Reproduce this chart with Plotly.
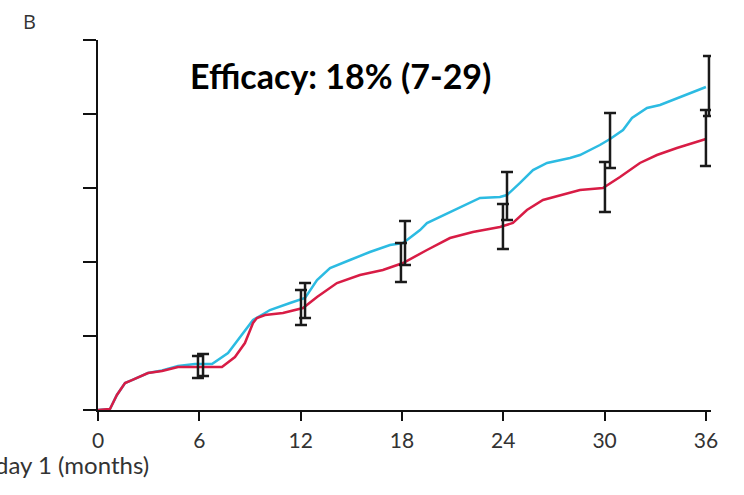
import plotly.graph_objects as go

# Cumulative curves (months, value on unlabeled y scale 0-50)
red_months = [0, 0.71, 1.12, 1.60, 2.01, 2.96, 3.79, 4.74, 5.74, 7.34, 8.11, 8.70, 9.18, 9.41, 9.89,
              10.95, 12.14, 12.97, 14.15, 15.51, 16.87, 18.06, 19.48, 20.84, 22.20, 23.80, 24.57,
              25.40, 26.35, 27.95, 28.54, 29.90, 30.91, 32.09, 33.10, 34.28, 36.0]
red_values = [0, 0.14, 2.03, 3.65, 4.05, 5.0, 5.27, 5.81, 5.81, 5.81, 7.16, 9.05, 11.76, 12.43, 12.84,
              13.11, 13.78, 15.27, 17.16, 18.24, 18.92, 19.86, 21.62, 23.24, 24.05, 24.73, 25.27,
              27.03, 28.38, 29.32, 29.73, 30.0, 31.49, 33.38, 34.46, 35.41, 36.62]

cyan_months = [0, 0.71, 1.12, 1.60, 2.01, 2.96, 3.79, 4.74, 5.74, 6.75, 7.70, 8.53, 9.18, 9.89, 10.18,
               11.37, 12.26, 12.97, 13.74, 14.92, 16.10, 17.29, 18.06, 18.30, 19.07, 19.48, 20.84,
               22.62, 23.80, 24.22, 24.99, 25.76, 26.59, 27.95, 28.54, 29.72, 30.32, 31.09, 31.62,
               32.51, 33.28, 34.47, 36.0]
cyan_values = [0, 0.14, 2.03, 3.65, 4.05, 5.0, 5.35, 5.95, 6.22, 6.22, 7.70, 10.14, 12.16, 13.11, 13.51,
               14.46, 15.14, 17.57, 19.19, 20.27, 21.35, 22.30, 22.57, 22.97, 24.32, 25.27, 26.76,
               28.65, 28.78, 29.05, 30.68, 32.43, 33.38, 34.05, 34.46, 35.81, 36.62, 37.84, 39.46,
               40.81, 41.22, 42.30, 43.65]

# Confidence intervals at 6-monthly time points
red_ci_months = [5.92, 12.02, 17.94, 23.98, 30.02, 36.0]
red_ci_lower = [4.32, 11.49, 17.30, 21.76, 26.76, 32.97]
red_ci_upper = [7.30, 16.22, 22.57, 27.84, 33.51, 40.54]

cyan_ci_months = [6.22, 12.26, 18.18, 24.22, 30.32, 36.18]
cyan_ci_lower = [4.59, 12.43, 19.59, 25.68, 32.70, 39.73]
cyan_ci_upper = [7.57, 17.16, 25.54, 32.16, 40.14, 47.84]

x_ticks = [0, 6, 12, 18, 24, 30, 36]
y_ticks = [0, 10, 20, 30, 40, 50]

CYAN = "#2cbbe2"
RED = "#d81c45"

fig = go.Figure()
fig.add_trace(go.Scatter(x=cyan_months, y=cyan_values, mode="lines",
                         line=dict(color=CYAN, width=2.5), hoverinfo="skip"))
fig.add_trace(go.Scatter(x=red_months, y=red_values, mode="lines",
                         line=dict(color=RED, width=2.5), hoverinfo="skip"))

def add_ci(xs, lo, hi):
    mid = [(a + b) / 2 for a, b in zip(lo, hi)]
    fig.add_trace(go.Scatter(
        x=xs, y=mid, mode="markers", marker=dict(size=1, opacity=0), cliponaxis=False,
        error_y=dict(type="data", symmetric=False,
                     array=[h - m for h, m in zip(hi, mid)],
                     arrayminus=[m - l for m, l in zip(mid, lo)],
                     color="#1a1a1a", thickness=2.5, width=6),
        hoverinfo="skip"))

add_ci(red_ci_months, red_ci_lower, red_ci_upper)
add_ci(cyan_ci_months, cyan_ci_lower, cyan_ci_upper)

fig.update_layout(
    width=744, height=495,
    margin=dict(l=98, r=33, t=40, b=85),
    paper_bgcolor="white", plot_bgcolor="white",
    showlegend=False,
    font=dict(family="Lato, Open Sans, sans-serif", color="#333333"),
    xaxis=dict(range=[0, 36.3], tickvals=x_ticks, ticktext=[str(v) for v in x_ticks],
               showgrid=False, zeroline=False, showline=True, linecolor="#111111", linewidth=2,
               ticks="outside", ticklen=9, tickwidth=2, tickcolor="#111111",
               ticklabelstandoff=2,
               tickfont=dict(size=21, color="#333333"), fixedrange=True),
    yaxis=dict(range=[0, 50], tickvals=y_ticks, showticklabels=False,
               showgrid=False, zeroline=False, showline=True, linecolor="#111111", linewidth=2,
               ticks="outside", ticklen=13, tickwidth=2, tickcolor="#111111", fixedrange=True),
)

fig.add_annotation(text="B", xref="paper", yref="paper", x=-0.126, y=1.05,
                   xanchor="left", yanchor="middle", showarrow=False,
                   font=dict(size=20, color="#333333", family="Open Sans, sans-serif"))
fig.add_annotation(text="<b>Efficacy: 18% (7-29)</b>", xref="paper", yref="paper",
                   x=0.147, y=0.905, xanchor="left", yanchor="middle", showarrow=False,
                   font=dict(size=34, color="#000000", family="Lato, sans-serif"))
fig.add_annotation(text="Time since day 1 (months)", xref="paper", yref="paper",
                   x=0.087, y=-0.146, xanchor="right", yanchor="middle", showarrow=False,
                   font=dict(size=24, color="#333333", family="Lato, sans-serif"))

fig.write_html("out.html")
